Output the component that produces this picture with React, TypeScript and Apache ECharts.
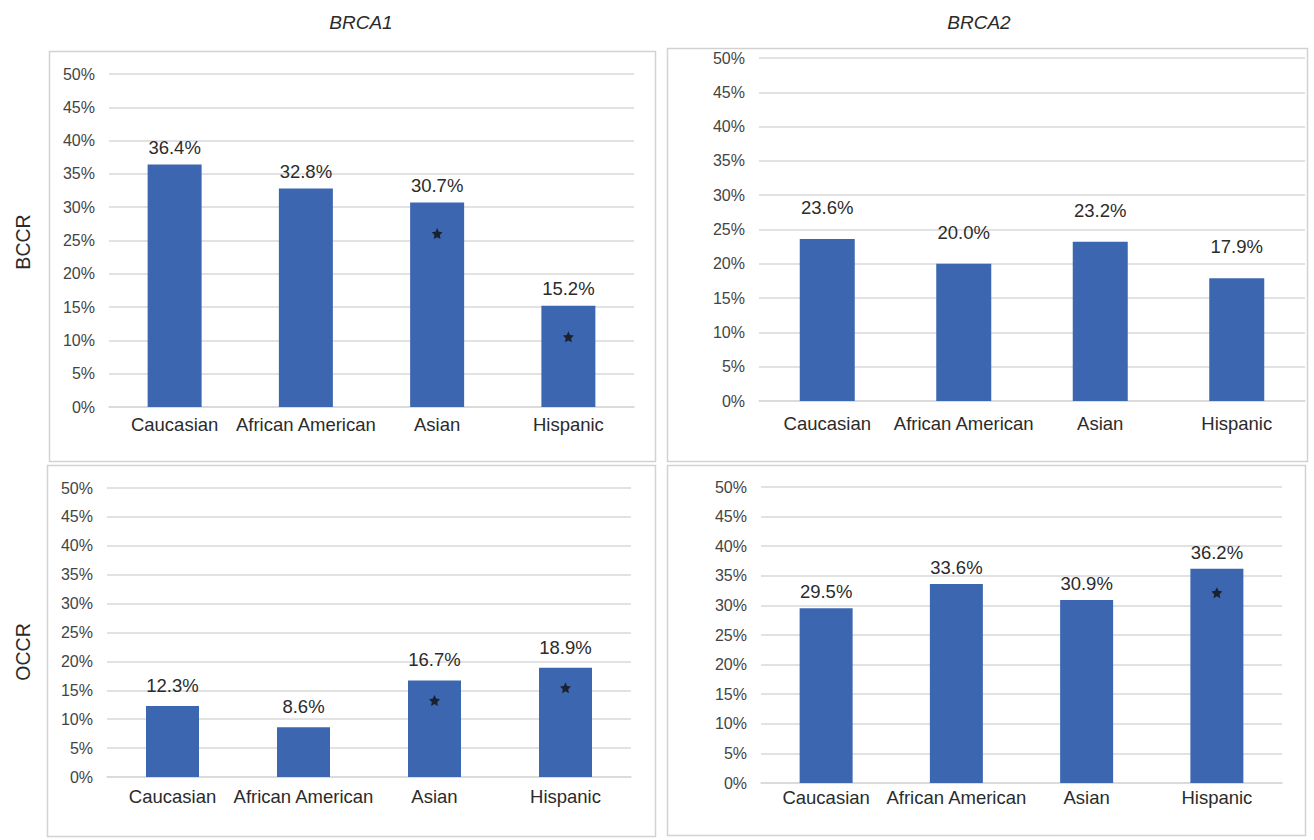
import React, { useEffect, useRef } from "react";
import * as echarts from "echarts";

const categories = ["Caucasian", "African American", "Asian", "Hispanic"];
const brca1Bccr = [36.4, 32.8, 30.7, 15.2];
const brca2Bccr = [23.6, 20.0, 23.2, 17.9];
const brca1Occr = [12.3, 8.6, 16.7, 18.9];
const brca2Occr = [29.5, 33.6, 30.9, 36.2];
const brca1BccrSig = [false, false, true, true];
const brca2BccrSig = [false, false, false, false];
const brca1OccrSig = [false, false, true, true];
const brca2OccrSig = [false, false, false, true];
const geneTitles = ["BRCA1", "BRCA2"];
const rowTitles = ["BCCR", "OCCR"];
const yMin = 0;
const yMax = 50;
const yStep = 5;

const FONT = "Liberation Sans, Arial, sans-serif";
const BAR = "#3D66B0";
const GRID = "#D9D9D9";

const panels = [
  { values: brca1Bccr, sig: brca1BccrSig, grid: { left: 109, top: 74, width: 525, height: 333 }, barWidth: 54, labelDist: 8, xMargin: 8, star: 31, box: [49, 51, 606, 410] },
  { values: brca2Bccr, sig: brca2BccrSig, grid: { left: 759, top: 58, width: 546, height: 343 }, barWidth: 55, labelDist: 22, xMargin: 13, star: 30, box: [667, 48, 640, 413] },
  { values: brca1Occr, sig: brca1OccrSig, grid: { left: 107, top: 488, width: 524, height: 289 }, barWidth: 53, labelDist: 11, xMargin: 10, star: 20, box: [47, 465, 608, 371] },
  { values: brca2Occr, sig: brca2OccrSig, grid: { left: 761, top: 487, width: 521, height: 296 }, barWidth: 53, labelDist: 7, xMargin: 5, star: 24, box: [667, 465, 638, 370] },
];

const STAR = "path://M0,-10 L2.9,-4 L9.5,-3.1 L4.7,1.5 L5.9,8.1 L0,5 L-5.9,8.1 L-4.7,1.5 L-9.5,-3.1 L-2.9,-4 Z";

export default function App() {
  const ref = useRef<HTMLDivElement>(null);
  useEffect(() => {
    document.body.style.margin = "0";
    if (!ref.current) return;
    const chart = echarts.init(ref.current, null, { renderer: "svg" });

    const grids = panels.map((p) => ({ ...p.grid, containLabel: false }));
    const xAxis = panels.map((p, i) => ({
      type: "category",
      gridIndex: i,
      data: categories,
      axisTick: { show: false },
      axisLine: { show: true, lineStyle: { color: GRID, width: 1.5 } },
      axisLabel: { color: "#2b2b2b", fontSize: 18.5, fontFamily: FONT, margin: p.xMargin, interval: 0 },
    }));
    const yAxis = panels.map((p, i) => ({
      type: "value",
      gridIndex: i,
      min: yMin,
      max: yMax,
      interval: yStep,
      axisLine: { show: false },
      axisTick: { show: false },
      splitLine: { show: true, lineStyle: { color: GRID, width: 1.5 } },
      axisLabel: { color: "#444", fontSize: 16, fontFamily: FONT, margin: 14, formatter: "{value}%" },
    }));
    const series: any[] = [];
    panels.forEach((p, i) => {
      series.push({
        type: "bar",
        xAxisIndex: i,
        yAxisIndex: i,
        data: p.values,
        barWidth: p.barWidth,
        itemStyle: { color: BAR },
        label: {
          show: true,
          position: "top",
          distance: p.labelDist,
          color: "#2b2b2b",
          fontSize: 18.5,
          fontFamily: FONT,
          formatter: (d: any) => d.value.toFixed(1) + "%",
        },
      });
      series.push({
        type: "scatter",
        xAxisIndex: i,
        yAxisIndex: i,
        data: p.values.map((v, j) => (p.sig[j] ? v : "-")),
        symbol: STAR,
        symbolSize: 11,
        symbolOffset: [0, p.star],
        itemStyle: { color: "#111" },
        z: 5,
      });
    });

    const graphic: any[] = [];
    panels.forEach((p) => {
      graphic.push({
        type: "rect",
        shape: { x: p.box[0] + 0.5, y: p.box[1] + 0.5, width: p.box[2], height: p.box[3] },
        style: { fill: "none", stroke: "#D2D2D2", lineWidth: 1.5 },
        silent: true,
      });
    });
    const titleX = [361, 979];
    geneTitles.forEach((t, i) => {
      graphic.push({
        type: "text",
        x: titleX[i],
        y: 22,
        style: { text: t, fill: "#2b2b2b", font: `italic 19px ${FONT}`, align: "center", verticalAlign: "middle" },
      });
    });
    const rowY = [242, 652];
    rowTitles.forEach((t, i) => {
      graphic.push({
        type: "text",
        x: 23,
        y: rowY[i],
        rotation: Math.PI / 2,
        style: { text: t, fill: "#2b2b2b", font: `19.5px ${FONT}`, align: "center", verticalAlign: "middle" },
      });
    });

    chart.setOption({
      animation: false,
      backgroundColor: "#fff",
      grid: grids,
      xAxis,
      yAxis,
      series,
      graphic,
    });
    return () => chart.dispose();
  }, []);
  return <div ref={ref} style={{ width: 1314, height: 840 }} />;
}
